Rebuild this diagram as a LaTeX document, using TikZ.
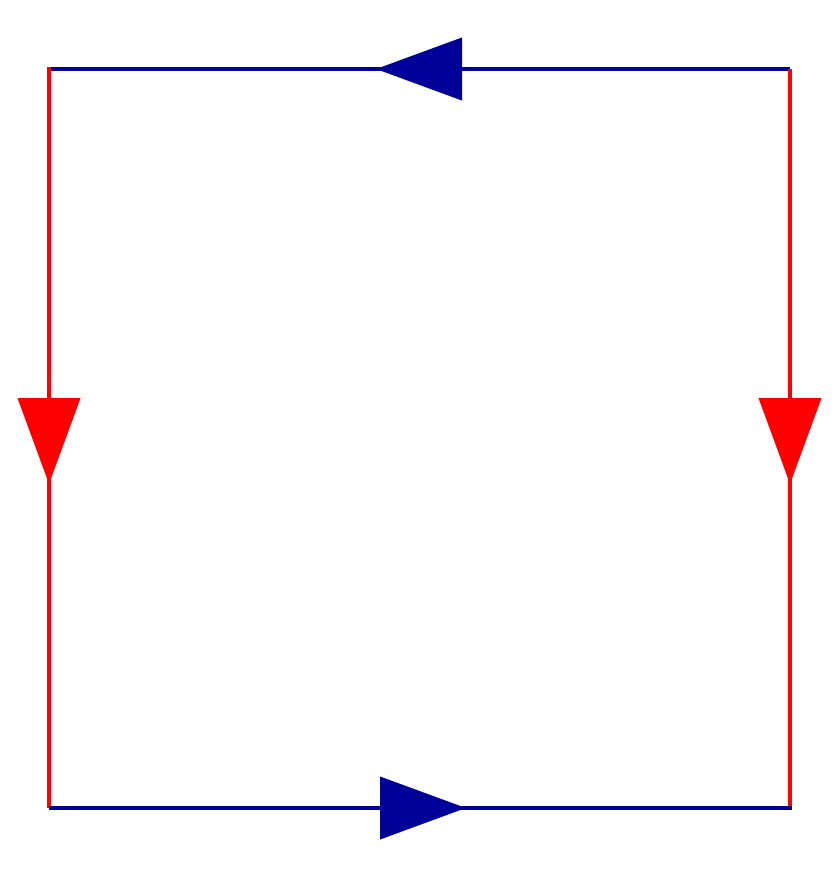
\documentclass[tikz,border=0pt]{standalone}
\usetikzlibrary{arrows.meta}
\definecolor{edgeblue}{RGB}{0,0,153}
\definecolor{edgered}{RGB}{255,0,0}
\begin{document}
\begin{tikzpicture}[x=0.5pt,y=-0.5pt,line width=2pt]
						\tikzstyle{hedge} = [draw=edgeblue]
						\tikzstyle{vedge} = [draw=edgered]
						\tikzstyle{tip} = [-{Triangle[length=43pt,width=31pt]}]
						\useasboundingbox (0,0) rectangle (840,880);
						\fill [white] (0,0) rectangle (840,880);
						\coordinate (tl) at (49,69);
						\coordinate (tr) at (790,69);
						\coordinate (bl) at (49,808);
						\coordinate (br) at (790,808);
						\coordinate (top_tip) at (376,69);
						\coordinate (left_tip) at (49,484);
						\coordinate (right_tip) at (790,484);
						\coordinate (bottom_tip) at (466,808);
						\draw [hedge] (tr) -- (tl);
						\draw [hedge,tip,edgeblue] (tr) -- (top_tip);
						\draw [vedge] ([yshift=1]tl) -- (bl);
						\draw [vedge,tip,edgered] ([yshift=1]tl) -- (left_tip);
						\draw [vedge] (tr) -- (br);
						\draw [vedge,tip,edgered] (tr) -- (right_tip);
						\draw [hedge] (bl) -- ([xshift=1]br);
						\draw [hedge,tip,edgeblue] (bl) -- (bottom_tip);
					\end{tikzpicture}
\end{document}
